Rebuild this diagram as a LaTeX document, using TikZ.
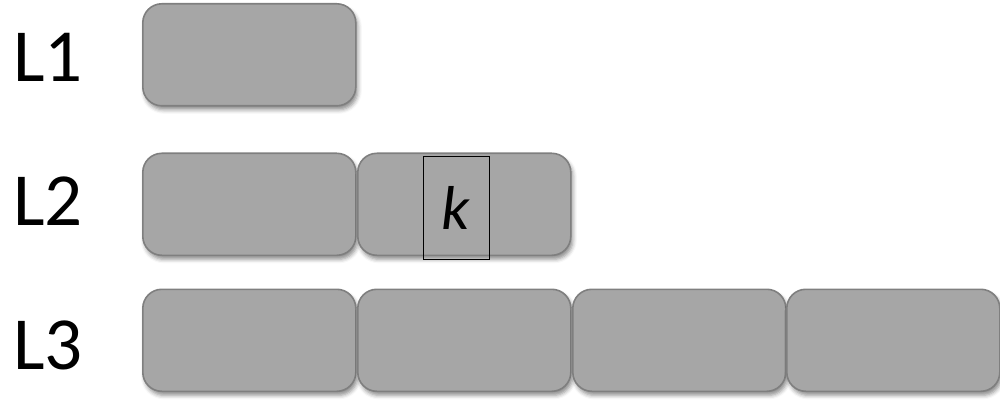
\documentclass[tikz,border=0pt]{standalone}
\usepackage{fontspec}
\setmainfont{Carlito}
\usetikzlibrary{shadows.blur}
\definecolor{boxfill}{HTML}{A6A6A6}
\definecolor{boxline}{HTML}{7F7F7F}
\tikzset{
  blk/.style={draw=boxline, fill=boxfill, line width=1.6pt, rounded corners=19pt,
    minimum width=213pt, minimum height=102pt, inner sep=0pt, anchor=north west,
    blur shadow={shadow xshift=2pt, shadow yshift=-4pt, shadow blur radius=4pt, shadow opacity=45}},
  lvl/.style={font=\fontsize{75}{75}\selectfont, inner sep=0pt, anchor=west},
  kbox/.style={draw=black, line width=0.7pt, minimum width=66pt, minimum height=103pt,
    inner sep=0pt, anchor=north west, font=\fontsize{62}{62}\selectfont\itshape}
}
\begin{document}
\begin{tikzpicture}[x=1pt,y=-1pt]
\useasboundingbox (0,0) rectangle (1000,403);
\node[blk] (a1) at (142,3) {};
\node[blk] (b1) at (142,152.5) {};
\node[blk] (b2) at (357,152.5) {};
\node[blk] (c1) at (142,288.5) {};
\node[blk] (c2) at (357,288.5) {};
\node[blk] (c3) at (572,288.5) {};
\node[blk] (c4) at (786,288.5) {};
\node[kbox] (k) at (422.5,156) {k};
\node[lvl] (l1) at (13,57) {L1};
\node[lvl] (l2) at (13,201) {L2};
\node[lvl] (l3) at (13,345) {L3};
\end{tikzpicture}
\end{document}
